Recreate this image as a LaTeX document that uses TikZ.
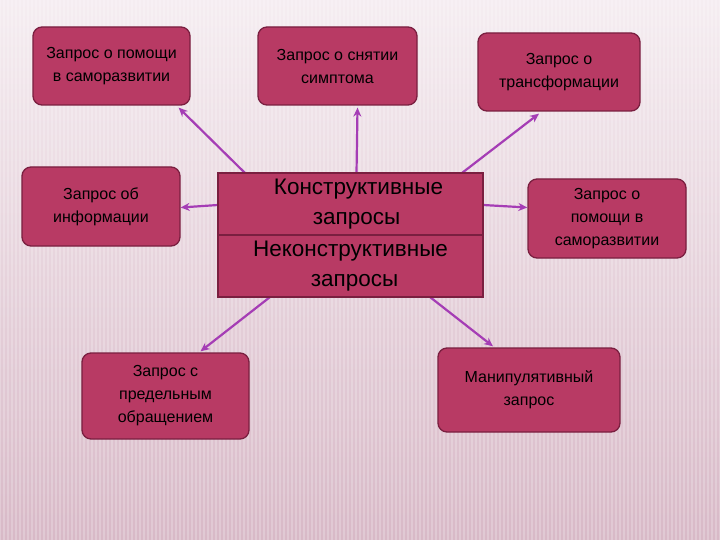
\documentclass[tikz,border=0pt]{standalone}
\usepackage{fontspec}
\setmainfont{Liberation Sans}
\usetikzlibrary{arrows.meta,calc}
\definecolor{boxfill}{HTML}{B83A64}
\definecolor{boxline}{HTML}{7A1F40}
\definecolor{arrowc}{HTML}{A53DB5}
\definecolor{bgtop}{HTML}{F5EDF1}
\definecolor{bgbot}{HTML}{D8B9C7}
\begin{document}
\begin{tikzpicture}[x=1pt,y=-1pt,
  sbox/.style={draw=boxline,line width=1.3pt,fill=boxfill,rounded corners=9pt,
    align=center,inner sep=2pt,font=\fontsize{16}{23}\selectfont,text=black},
  cbox/.style={draw=boxline,line width=1.3pt,fill=boxfill,align=center,
    font=\fontsize{22.5}{30}\selectfont,text=black},
  conn/.style={draw=arrowc,line width=2.2pt,-{Stealth[length=9pt,width=8pt]}}]
\useasboundingbox (0,0) rectangle (720,540);
\shade[top color=bgtop,bottom color=bgbot] (0,0) rectangle (720,540);
\foreach \x in {0,4,...,720} \draw[white,opacity=0.22,line width=1.4pt] (\x,0) -- (\x,540);
% nodes
\node[sbox,minimum width=157pt,minimum height=78pt] (b1) at (111.5,66) {Запрос о помощи\\в саморазвитии};
\node[sbox,minimum width=159pt,minimum height=78pt] (b2) at (337.5,66) {Запрос о снятии\\симптома};
\node[sbox,minimum width=162pt,minimum height=78pt] (b3) at (559,72) {Запрос о\\трансформации};
\node[sbox,minimum width=158pt,minimum height=79pt] (b4) at (101,206.5) {Запрос об\\информации};
\node[sbox,minimum width=158pt,minimum height=79pt] (b5) at (607,218.5) {Запрос о\\помощи в\\саморазвитии};
\node[sbox,minimum width=167pt,minimum height=86pt] (b6) at (165.5,396) {Запрос с\\предельным\\обращением};
\node[sbox,minimum width=182pt,minimum height=84pt] (b7) at (529,390) {Манипулятивный\\запрос};
% connectors (behind center box)
\node[inner sep=0,minimum width=265pt,minimum height=124pt] (c) at (350.5,235) {};
\draw[conn] ($(c.north west)+(27,0)$) -- ($(b1.south east)+(-12,2)$);
\draw[conn] ($(c.north)+(6,0)$) -- ($(b2.south)+(20,2)$);
\draw[conn] ($(c.north east)+(-21,0)$) -- ($(b3.south)+(-20,2)$);
\draw[conn] ($(c.west)+(0,-30)$) -- ($(b4.east)+(0,1)$);
\draw[conn] ($(c.east)+(0,-30)$) -- ($(b5.west)+(0,-11)$);
\draw[conn] ($(c.south west)+(52,0)$) -- ($(b6.north)+(35,-1)$);
\draw[conn] ($(c.south east)+(-53,0)$) -- ($(b7.north)+(-36,-1)$);
% center box
\node[cbox,minimum width=265pt,minimum height=62pt,inner sep=0] (ctop) at (350.5,204) {\hspace*{16pt}Конструктивные\\\hspace*{12pt}запросы};
\node[cbox,minimum width=265pt,minimum height=62pt,inner sep=0] (cbot) at (350.5,266) {Неконструктивные\\\hspace*{8pt}запросы};
\end{tikzpicture}
\end{document}
